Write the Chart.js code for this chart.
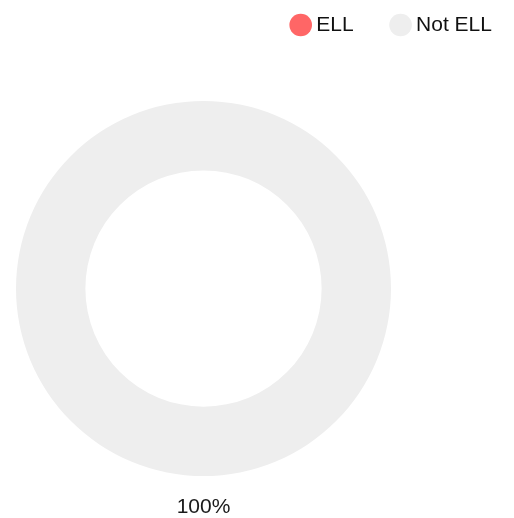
<!DOCTYPE html>
<html>
<head>
<meta charset="utf-8">
<script src="https://cdn.jsdelivr.net/npm/chart.js@4/dist/chart.umd.min.js"></script>
<style>
  html, body { margin: 0; padding: 0; background: #ffffff; }
  #wrap { position: relative; width: 514px; height: 518px; }
</style>
</head>
<body>
<div id="wrap"><canvas id="c"></canvas></div>
<script>
// ---- data ----
const categories = ["ELL", "Not ELL"];
const values = [0, 100];
const colors = ["#ff6666", "#eeeeee"];

// ---- layout constants ----
const FONT = "'Liberation Sans', Arial, Helvetica, sans-serif";
const FONT_SIZE = 21;
const LEGEND_PAD = 42;
const AREA = { left: 16, top: 101, right: 391, bottom: 476 };
const LEGEND_BOX = { left: 253.7, top: -27.5 };
const LABEL_OFFSET = 31;

const layoutPlugin = {
  id: 'customLayout',
  afterLayout(chart) {
    const ca = chart.chartArea;
    ca.left = AREA.left; ca.top = AREA.top; ca.right = AREA.right; ca.bottom = AREA.bottom;
    ca.width = AREA.right - AREA.left; ca.height = AREA.bottom - AREA.top;
    const lg = chart.legend;
    if (lg) {
      const h = lg.height, w = lg.width;
      lg.left = LEGEND_BOX.left; lg.right = chart.width + 40;
      lg.top = LEGEND_BOX.top; lg.bottom = LEGEND_BOX.top + h;
    }
  }
};

const pctLabelPlugin = {
  id: 'pctLabels',
  afterDatasetsDraw(chart) {
    const ctx = chart.ctx;
    const meta = chart.getDatasetMeta(0);
    const data = chart.data.datasets[0].data;
    const total = data.reduce((a, b) => a + b, 0);
    ctx.save();
    ctx.font = FONT_SIZE + "px " + FONT;
    ctx.fillStyle = "#1a1a1a";
    ctx.textAlign = "center";
    ctx.textBaseline = "middle";
    meta.data.forEach((arc, i) => {
      const v = data[i];
      if (!v) return;
      const p = arc.getProps(['x', 'y', 'startAngle', 'endAngle', 'outerRadius'], true);
      const mid = (p.startAngle + p.endAngle) / 2;
      const r = p.outerRadius + LABEL_OFFSET;
      ctx.fillText(Math.round(v / total * 100) + "%", p.x + Math.cos(mid) * r, p.y + Math.sin(mid) * r);
    });
    ctx.restore();
  }
};

new Chart(document.getElementById('c'), {
  type: 'doughnut',
  data: {
    labels: categories,
    datasets: [{
      data: values,
      backgroundColor: colors,
      borderWidth: 0,
      hoverOffset: 0
    }]
  },
  options: {
    responsive: true,
    maintainAspectRatio: false,
    animation: false,
    cutout: '63%',
    plugins: {
      legend: {
        position: 'top',
        align: 'start',
        labels: {
          usePointStyle: true,
          pointStyle: 'circle',
          boxWidth: 10,
          boxHeight: 16,
          padding: LEGEND_PAD,
          color: '#111111',
          font: { family: FONT, size: FONT_SIZE }
        }
      },
      tooltip: { enabled: false }
    }
  },
  plugins: [layoutPlugin, pctLabelPlugin]
});
</script>
</body>
</html>
